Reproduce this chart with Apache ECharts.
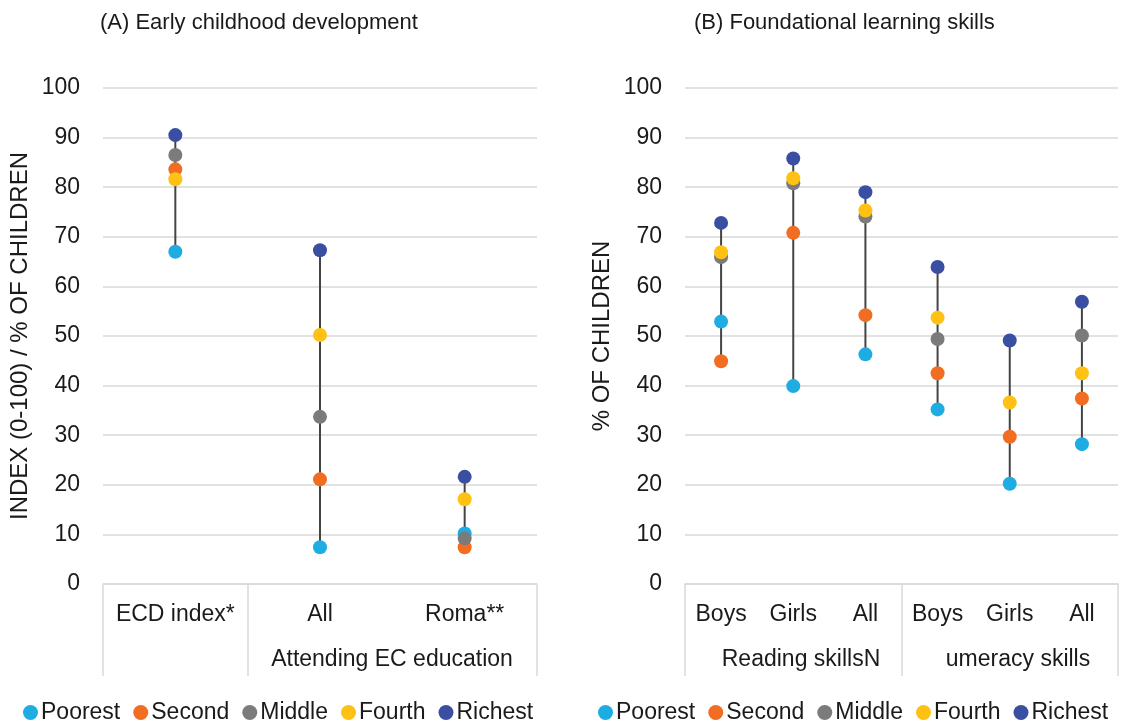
<!DOCTYPE html>
<html>
<head>
<meta charset="utf-8">
<script src="https://cdn.jsdelivr.net/npm/echarts@6/dist/echarts.min.js"></script>
<style>html,body{margin:0;padding:0;background:#fff}#c{width:1128px;height:723px}</style>
</head>
<body>
<div id="c"></div>
<script>
// ---- Data ----
const groupNames = ['Poorest', 'Second', 'Middle', 'Fourth', 'Richest'];
const colors = ['#1EADE3', '#F06D22', '#7B7B7B', '#FFC113', '#3A4FA1'];

// Panel A
const catsA = ['ECD index*', 'All', 'Roma**'];
const groupLabelsA = ['Attending EC education'];
const poorestA = [67.0, 7.4, 10.2];
const secondA  = [83.6, 21.1, 7.4];
const middleA  = [86.5, 33.7, 9.2];
const fourthA  = [81.6, 50.2, 17.1];
const richestA = [90.5, 67.3, 21.6];

// Panel B
const catsB = ['Boys', 'Girls', 'All', 'Boys', 'Girls', 'All'];
const groupLabelsB = ['Reading skillsN', 'umeracy skills'];
const poorestB = [52.9, 39.9, 46.3, 35.2, 20.2, 28.2];
const secondB  = [44.9, 70.8, 54.2, 42.5, 29.7, 37.4];
const middleB  = [65.9, 80.8, 74.1, 49.4, null, 50.1];
const fourthB  = [66.9, 81.8, 75.3, 53.7, 36.6, 42.5];
const richestB = [72.8, 85.8, 79.0, 63.9, 49.1, 56.9];

const yTicks = [0, 10, 20, 30, 40, 50, 60, 70, 80, 90, 100];

const titleA = '(A) Early childhood development';
const titleB = '(B) Foundational learning skills';
const yNameA = 'INDEX (0-100) / % OF CHILDREN';
const yNameB = '% OF CHILDREN';

// ---- Build ----
const FONT = 'Liberation Sans';
const FS = 23;
const txt = '#1a1a1a';
const chart = echarts.init(document.getElementById('c'));

function rangeData(arrs) {
  const n = arrs[0].length;
  const out = [];
  for (let i = 0; i < n; i++) {
    const vals = arrs.map(a => a[i]).filter(v => v !== null && v !== undefined);
    out.push([i, Math.min(...vals), Math.max(...vals)]);
  }
  return out;
}

function rangeSeries(idx, arrs) {
  return {
    type: 'custom', xAxisIndex: idx, yAxisIndex: idx, z: 1, silent: true,
    data: rangeData(arrs),
    renderItem: function (params, api) {
      const p1 = api.coord([api.value(0), api.value(1)]);
      const p2 = api.coord([api.value(0), api.value(2)]);
      return { type: 'line', shape: { x1: p1[0], y1: p1[1], x2: p2[0], y2: p2[1] },
               style: { stroke: '#444444', lineWidth: 2 } };
    }
  };
}

function dotSeries(idx, arrs) {
  return arrs.map((a, k) => ({
    name: groupNames[k], type: 'scatter', xAxisIndex: idx, yAxisIndex: idx,
    data: a.map((v, i) => [i, v]), symbolSize: 14, z: 2 + k,
    itemStyle: { color: colors[k], opacity: 1 }
  }));
}

const arrsA = [poorestA, secondA, middleA, fourthA, richestA];
const arrsB = [poorestB, secondB, middleB, fourthB, richestB];

function xAxis(idx, cats) {
  return {
    type: 'category', gridIndex: idx, data: cats, boundaryGap: true,
    axisLine: { lineStyle: { color: '#d9d9d9', width: 1.5 } },
    axisTick: { show: false },
    axisLabel: { color: txt, fontFamily: FONT, fontSize: FS, margin: 19, interval: 0 }
  };
}
function yAxis(idx, name) {
  return {
    type: 'value', gridIndex: idx, min: 0, max: 100, interval: 10,
    name: name, nameLocation: 'middle', nameGap: 71,
    nameTextStyle: { color: txt, fontFamily: FONT, fontSize: 24 },
    axisLine: { show: false }, axisTick: { show: false },
    axisLabel: { color: txt, fontFamily: FONT, fontSize: FS, margin: 23 },
    splitLine: { lineStyle: { color: '#d9d9d9', width: 1.5 } }
  };
}

const legendBase = {
  data: groupNames, icon: 'circle', itemWidth: 15, itemHeight: 15, itemGap: 13,
  top: 696, textStyle: { color: txt, fontFamily: FONT, fontSize: FS, padding: [0, 0, 0, -2] },
  selectedMode: false
};

const sepColor = '#d9d9d9';
function vline(x) {
  return { type: 'line', shape: { x1: x, y1: 584, x2: x, y2: 676 }, style: { stroke: sepColor, lineWidth: 1.5 } };
}
function gtext(t, x, y) {
  return { type: 'text', x: x, y: y, style: { text: t, fill: txt, font: FS + 'px "' + FONT + '"', textAlign: 'center', textVerticalAlign: 'middle' } };
}

chart.setOption({
  animation: false,
  title: [
    { text: titleA, left: 95, top: 7, textStyle: { color: txt, fontFamily: FONT, fontSize: 22, fontWeight: 'normal' } },
    { text: titleB, left: 689, top: 7, textStyle: { color: txt, fontFamily: FONT, fontSize: 22, fontWeight: 'normal' } }
  ],
  grid: [
    { left: 103, right: 591, top: 88, bottom: 139 },
    { left: 685, right: 10, top: 88, bottom: 139 }
  ],
  xAxis: [xAxis(0, catsA), xAxis(1, catsB)],
  yAxis: [yAxis(0, yNameA), yAxis(1, yNameB)],
  legend: [
    Object.assign({}, legendBase, { left: 18 }),
    Object.assign({}, legendBase, { left: 593 })
  ],
  graphic: [
    vline(103), vline(248), vline(537),
    vline(685), vline(902), vline(1118),
    gtext(groupLabelsA[0], 392, 660),
    gtext(groupLabelsB[0], 801, 660),
    gtext(groupLabelsB[1], 1018, 660)
  ],
  series: [rangeSeries(0, arrsA), rangeSeries(1, arrsB)]
    .concat(dotSeries(0, arrsA)).concat(dotSeries(1, arrsB))
});
</script>
</body>
</html>
